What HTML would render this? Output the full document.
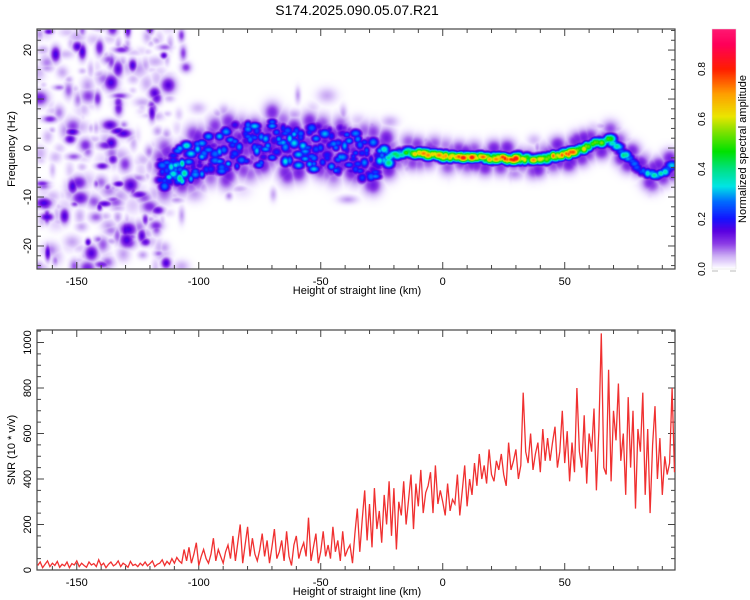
<!DOCTYPE html>
<html><head><meta charset="utf-8"><style>
body{margin:0;background:#fff;width:750px;height:600px;overflow:hidden;font-family:"Liberation Sans",sans-serif}
#wrap{position:relative;width:750px;height:600px}
canvas{position:absolute}
svg{position:absolute;left:0;top:0}
</style></head><body><div id="wrap">
<canvas id="hm" width="638" height="240" style="left:37px;top:29px"></canvas>
<canvas id="cb" width="24" height="240" style="left:712px;top:29px"></canvas>
<svg id="s" width="750" height="600"></svg>
</div>
<script>
// ridge data (height km, freq Hz, amplitude, spread Hz)
const ridgeH=[-116,-110,-100,-90,-80,-70,-60,-50,-40,-30,-20,-10,0,10,20,30,40,50,55,60,65,68,72,76,80,85,90,94];
const ridgeF=[-5,-4,-2,0,1,1,0,0,0,-3,-1,-1,-1.5,-1.8,-2,-2,-2.2,-1.2,-0.5,0.5,1.5,2,0,-2,-4,-5.3,-5.3,-3];
const ridgeA=[0.25,0.45,0.32,0.32,0.34,0.32,0.36,0.32,0.32,0.28,0.5,0.75,0.8,0.85,0.85,0.9,0.7,0.85,0.8,0.65,0.6,0.55,0.45,0.38,0.32,0.42,0.42,0.32];
const ridgeS=[3,3.5,4,4.5,4.5,4.5,4.5,4.5,4.5,4.5,1.5,1,1,1,1,1,1,1,1,1.2,1.5,1.5,1.5,1.5,1.8,1.2,1,1];
// SNR per km from -166 to 95
const snrStart=-166;
const snr=[20,35,10,25,40,15,30,20,38,12,25,18,35,10,28,22,40,15,30,20,12,35,22,28,15,45,20,30,10,25,35,18,25,40,15,30,22,12,38,20,25,15,30,20,35,18,28,40,15,25,30,45,20,38,25,50,30,55,40,30,
90,40,100,30,70,120,20,60,90,50,30,70,140,40,90,60,30,80,110,50,150,40,120,200,30,110,190,60,140,70,40,90,160,60,130,30,100,180,50,80,130,40,170,60,20,110,150,50,90,120,60,230,40,100,160,30,80,170,60,110,50,190,80,130,40,170,60,90,110,30,
160,270,80,220,350,130,290,100,360,180,260,120,330,200,390,150,360,90,300,240,390,200,310,420,180,380,280,440,250,340,370,430,250,460,290,350,300,240,380,260,310,290,420,240,350,460,280,400,330,470,370,510,400,460,380,530,420,390,480,440,
510,420,370,560,440,480,530,400,460,780,520,470,600,440,510,560,430,620,480,580,480,560,630,450,520,700,470,610,390,560,430,800,520,450,680,380,600,520,710,350,620,1040,450,420,880,390,700,570,820,480,600,330,760,450,700,270,620,520,780,330,620,250,550,720,400,580,330,500,420,470,800,430];
const xTicks=[-150,-100,-50,0,50];
const fTicks=[-20,-10,0,10,20];
const snrTicks=[0,200,400,600,800,1000];
const cbTicks=[0.0,0.2,0.4,0.6,0.8];

const X0=37,X1=675,xmin=-166.3,xmax=95.2;
const sx=v=>X0+(v-xmin)/(xmax-xmin)*(X1-X0);
const T0=29,T1=269,fmin=-24.7,fmax=24.3;
const sf=v=>T1-(v-fmin)/(fmax-fmin)*(T1-T0);
const B0=330,B1=570,smin=0,smax=1055;
const ss=v=>B1-(v-smin)/(smax-smin)*(B1-B0);
const C0=29,C1=269,cmax=0.96;
const sc=v=>C1-v/cmax*(C1-C0);

const stops=[[0,[255,255,255]],[0.015,[240,230,255]],[0.05,[205,175,245]],[0.1,[140,60,230]],[0.15,[90,0,225]],[0.2,[20,20,255]],[0.27,[0,110,255]],[0.33,[0,230,230]],[0.4,[0,225,130]],[0.47,[0,225,0]],[0.55,[130,225,0]],[0.61,[235,230,0]],[0.7,[255,160,0]],[0.8,[255,30,0]],[0.9,[255,0,90]],[1,[255,40,130]]];
function cmap(v){if(v<=0)return stops[0][1];for(let i=1;i<stops.length;i++){if(v<=stops[i][0]){const a=stops[i-1],b=stops[i];const t=(v-a[0])/(b[0]-a[0]);return a[1].map((c,k)=>c+(b[1][k]-c)*t);}}return stops[stops.length-1][1];}

let seed=12345;function rnd(){seed|=0;seed=seed+0x6D2B79F5|0;let t=Math.imul(seed^seed>>>15,1|seed);t=t+Math.imul(t^t>>>7,61|t)^t;return((t^t>>>14)>>>0)/4294967296;}
function interp(arr,h){if(h<=ridgeH[0])return arr[0];for(let i=1;i<ridgeH.length;i++){if(h<=ridgeH[i]){const t=(h-ridgeH[i-1])/(ridgeH[i]-ridgeH[i-1]);return arr[i-1]+(arr[i]-arr[i-1])*t;}}return arr[arr.length-1];}
const blobs=[];
// background speckle (decoration)
for(let i=0;i<330;i++){const h=-166+rnd()*54+(rnd()<0.2?rnd()*8:0);const f=-25+rnd()*50;const r=rnd();blobs.push([sx(h)-X0,sf(f)-T0,r<0.65?0.02+rnd()*0.04:0.07+rnd()*0.1,2+rnd()*4,2+rnd()*4]);}
for(let i=0;i<90;i++){const h=-110+rnd()*200;const f=interp(ridgeF,h)+(rnd()-0.5)*(h<-20?22:8);blobs.push([sx(h)-X0,sf(f)-T0,0.02+rnd()*0.05,2+rnd()*5,2+rnd()*4]);}
// ridge
for(let h=-116;h<=94;h+=0.9){const c=interp(ridgeF,h),a=interp(ridgeA,h),s=interp(ridgeS,h);
 const wide=s>2;
 const n=wide?3:1;
 for(let k=0;k<n;k++){const f=c+(rnd()-0.5)*(wide?2*s:0.6*s);const aa=a*(wide?(0.3+0.7*rnd()):(0.55+0.45*rnd()));
  blobs.push([sx(h)-X0,sf(f)-T0,aa,wide?2.5+rnd()*2.5:3+rnd()*2.5,wide?2.5+rnd()*2:3+rnd()*1]);
  blobs.push([sx(h)-X0,sf(f+(rnd()-0.5)*5)-T0,0.07+rnd()*0.06,6,wide?7:6]);}
}
(function(){const cv=document.getElementById('hm'),ctx=cv.getContext('2d');const W=cv.width,H=cv.height;const F=new Float32Array(W*H);
for(const b of blobs){const[bx,by,a,rx,ry]=b;const x0=Math.max(0,Math.floor(bx-rx*3)),x1=Math.min(W-1,Math.ceil(bx+rx*3)),y0=Math.max(0,Math.floor(by-ry*3)),y1=Math.min(H-1,Math.ceil(by+ry*3));
for(let y=y0;y<=y1;y++)for(let x=x0;x<=x1;x++){const dx=(x-bx)/rx,dy=(y-by)/ry;const v=a*Math.exp(-0.5*(dx*dx+dy*dy));const i=y*W+x;if(v>F[i])F[i]=v;}}
const img=ctx.createImageData(W,H);for(let i=0;i<W*H;i++){const c=cmap(F[i]);img.data[i*4]=c[0];img.data[i*4+1]=c[1];img.data[i*4+2]=c[2];img.data[i*4+3]=255;}ctx.putImageData(img,0,0);
const cb=document.getElementById('cb'),c2=cb.getContext('2d');for(let y=0;y<240;y++){const c=cmap((239-y)/239*cmax);c2.fillStyle=`rgb(${c[0]|0},${c[1]|0},${c[2]|0})`;c2.fillRect(0,y,24,1);}})();

const NS='http://www.w3.org/2000/svg';const svg=document.getElementById('s');
function el(t,a,txt){const e=document.createElementNS(NS,t);for(const k in a)e.setAttribute(k,a[k]);if(txt!=null)e.textContent=txt;svg.appendChild(e);return e;}
let e;
e=el('text',{x:357,y:15,'text-anchor':'middle','font-size':14,fill:'#000'},'S174.2025.090.05.07.R21');


function frame(y0,y1,nm){e=el('rect',{x:X0,y:y0,width:X1-X0,height:y1-y0,fill:'none',stroke:'#444','stroke-width':1.2});


for(let v=-160;v<=90;v+=10){const x=sx(v);const L=(v%50===0)?7:4;el('line',{x1:x,x2:x,y1:y0,y2:y0+L,stroke:'#444'});el('line',{x1:x,x2:x,y1:y1,y2:y1-L,stroke:'#444'});}
for(const v of xTicks){e=el('text',{x:sx(v),y:y1+16,'text-anchor':'middle','font-size':11},String(v));

}
e=el('text',{x:357,y:y1+25,'text-anchor':'middle','font-size':11},'Height of straight line (km)');

}
frame(T0,T1,'spectrogram-frame');frame(B0,B1,'snr-frame');
for(let v=-24;v<=24;v+=2){const y=sf(v);const L=(v%10===0)?7:4;el('line',{x1:X0,x2:X0+L,y1:y,y2:y,stroke:'#444'});el('line',{x1:X1,x2:X1-L,y1:y,y2:y,stroke:'#444'});}
for(const v of fTicks){const y=sf(v);e=el('text',{x:0,y:0,transform:`translate(31,${y}) rotate(-90)`,'text-anchor':'middle','font-size':11},String(v));

}
e=el('text',{transform:`translate(15,149) rotate(-90)`,'text-anchor':'middle','font-size':11},'Frequency (Hz)');


for(let v=0;v<=1050;v+=50){const y=ss(v);const L=(v%200===0)?7:4;el('line',{x1:X0,x2:X0+L,y1:y,y2:y,stroke:'#444'});el('line',{x1:X1,x2:X1-L,y1:y,y2:y,stroke:'#444'});}
for(const v of snrTicks){const y=ss(v);e=el('text',{transform:`translate(31,${y}) rotate(-90)`,'text-anchor':'middle','font-size':11},String(v));

}
e=el('text',{transform:`translate(15,450) rotate(-90)`,'text-anchor':'middle','font-size':11},'SNR (10 * v/v)');


let d='';snr.forEach((v,i)=>{d+=(i?'L':'M')+sx(snrStart+i).toFixed(1)+','+ss(v).toFixed(1);});
e=el('path',{d:d,fill:'none',stroke:'#f03030','stroke-width':1.3});


e=el('rect',{x:712,y:C0,width:24,height:C1-C0,fill:'none',stroke:'#ddd','stroke-width':0.5});


for(const v of cbTicks){const y=sc(v);e=el('text',{transform:`translate(705,${y}) rotate(-90)`,'text-anchor':'middle','font-size':10},v.toFixed(1));

}
el('line',{x1:712,x2:718,y1:C1+2,y2:C1+2,stroke:'#bbb'});el('line',{x1:730,x2:736,y1:C1+2,y2:C1+2,stroke:'#bbb'});
e=el('text',{transform:`translate(746,149) rotate(-90)`,'text-anchor':'middle','font-size':11},'Normalized spectral amplitude');


</script></body></html>
